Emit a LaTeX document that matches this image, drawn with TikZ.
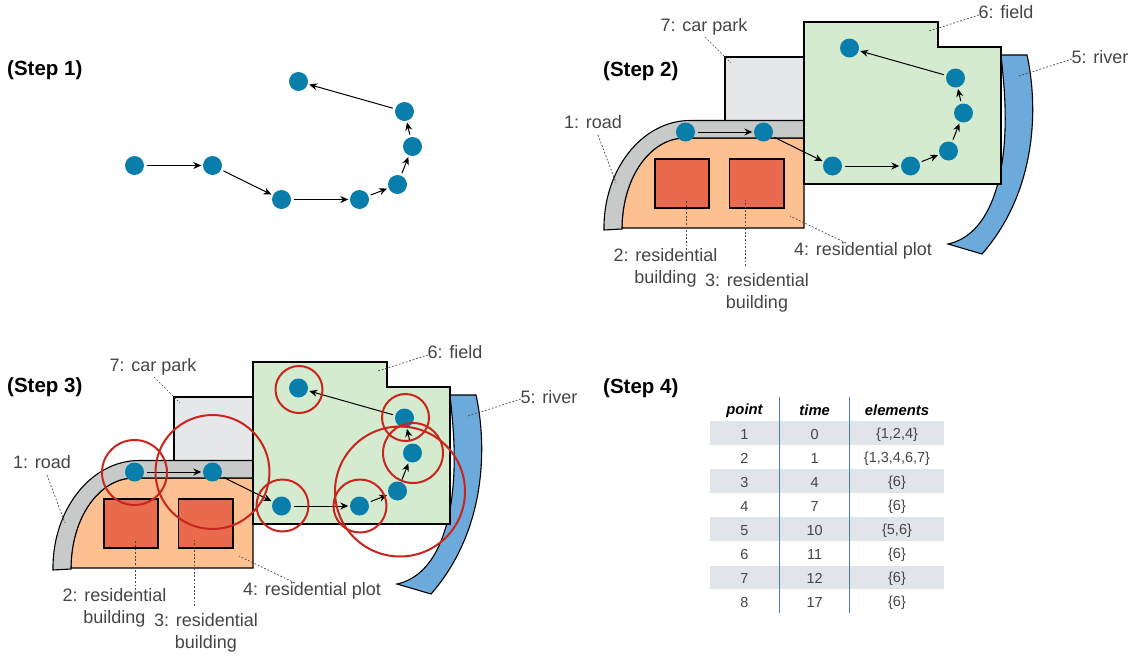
\documentclass[tikz,border=0pt]{standalone}
\usepackage{fontspec}
\setmainfont{Liberation Sans}
\usetikzlibrary{arrows.meta}
\definecolor{cfield}{HTML}{D5EBD0}
\definecolor{cpark}{HTML}{E6E7E9}
\definecolor{croad}{HTML}{C8CACA}
\definecolor{cplot}{HTML}{FDC090}
\definecolor{cbuild}{HTML}{EA6A4E}
\definecolor{criver}{HTML}{6CAADB}
\definecolor{cdot}{HTML}{0A7EAA}
\definecolor{cred}{HTML}{C9251D}
\definecolor{cband}{HTML}{E1E4E8}
\definecolor{cvline}{HTML}{4F7FA0}
\definecolor{ctext}{HTML}{454545}
\tikzset{
  region/.style={draw=black,line width=1.1pt,line join=miter},
  stop/.style={circle,fill=cdot,minimum size=19pt,inner sep=0pt},
  hop/.style={-{Stealth[length=8pt,width=7pt]},line width=1pt,black,shorten >=1.5pt,shorten <=2.5pt},
  leader/.style={draw=ctext,line width=.7pt,dash pattern=on 1.8pt off 1.8pt},
  lab/.style={text=ctext,font=\fontsize{18}{22}\selectfont,align=center,inner sep=0pt},
  steplab/.style={font=\bfseries\fontsize{20.5}{24}\selectfont,inner sep=0pt,text=black},
  ring/.style={draw=cred,line width=2pt,circle,inner sep=0pt},
  band/.style={fill=cband,draw=none},
  cell/.style={text=ctext,font=\fontsize{14.5}{16}\selectfont,inner sep=0pt},
  head/.style={text=black,font=\bfseries\itshape\fontsize{14.8}{16}\selectfont,inner sep=0pt},
  vrule/.style={draw=cvline,line width=.9pt},
}
\newcommand{\stops}[3]{%
  \begin{scope}[shift={(#2,#3)}]
    \node[stop] (#1a) at (685.5,132) {};
    \node[stop] (#1b) at (763.5,132) {};
    \node[stop] (#1c) at (832.5,166) {};
    \node[stop] (#1d) at (910.5,166) {};
    \node[stop] (#1e) at (948.5,151) {};
    \node[stop] (#1f) at (963.5,113) {};
    \node[stop] (#1g) at (955.5,78) {};
    \node[stop] (#1h) at (849.5,48) {};
    \draw[hop] (#1a) -- (#1b);
    \draw[hop] (#1b) -- (#1c);
    \draw[hop] (#1c) -- (#1d);
    \draw[hop] (#1d) -- (#1e);
    \draw[hop] (#1e) -- (#1f);
    \draw[hop] (#1f) -- (#1g);
    \draw[hop] (#1g) -- (#1h);
  \end{scope}}
\newcommand{\landuse}[3]{%
  \begin{scope}[shift={(#2,#3)}]
    \draw[region,fill=criver] (1001,55) -- (1027,55) .. controls (1038,105) and (1038,190) .. (982,254) -- (948,244) .. controls (985,236) and (1003,190) .. (1005,130) .. controls (1006,100) and (1003,75) .. (1001,55) -- cycle;
    \draw[region,fill=cpark] (725,120.5) -- (725,57) -- (804,57) -- (804,120.5) -- cycle;
    \draw[region,fill=cplot] (622,228) -- (804,228) -- (804,138) -- (685,138) .. controls (650,138) and (622,178) .. (622,228) -- cycle;
    \draw[region,fill=croad] (604,230) .. controls (603,170) and (642,120.5) .. (690,120.5) -- (804,120.5) -- (804,138) -- (685,138) .. controls (650,138) and (622,178) .. (622,229) -- cycle;
    \draw[region,fill=cbuild] (655,159) rectangle (709,208);
    \draw[region,fill=cbuild] (729.5,159) rectangle (784,208);
    \draw[region,fill=cfield] (804,22) -- (938,22) -- (938,47) -- (1001,47) -- (1001,184) -- (804,184) -- cycle;
    \node[lab] (#1road) at (593,122) {1: road};
    \node[lab] (#1bone) at (665.5,268) {2: residential\\building};
    \node[lab] (#1btwo) at (757,293) {3: residential\\building};
    \node[lab] (#1plot) at (863,251) {4: residential plot};
    \node[lab] (#1riv) at (1100,57) {5: river};
    \node[lab] (#1fld) at (1006,12) {6: field};
    \node[lab] (#1car) at (704,27) {7: car park};
    \coordinate (#1roadA) at (616,183);
    \coordinate (#1boneA) at (686,200);
    \coordinate (#1btwoA) at (745,200);
    \coordinate (#1plotA) at (790,216);
    \coordinate (#1rivA) at (1019,76);
    \coordinate (#1fldA) at (929,31);
    \coordinate (#1carA) at (731,63);
    \draw[leader] (598,135) -- (#1roadA);
    \draw[leader] (686,250) -- (#1boneA);
    \draw[leader] (745,266) -- (#1btwoA);
    \draw[leader] (846,243) -- (#1plotA);
    \draw[leader] (1072,59) -- (#1rivA);
    \draw[leader] (979,15) -- (#1fldA);
    \draw[leader] (705,37) -- (#1carA);
  \end{scope}}
\begin{document}
\begin{tikzpicture}[x=1pt,y=-1pt]
\useasboundingbox (0,0) rectangle (1136,659);
\node[steplab,anchor=west] (t1) at (7,70) {(Step 1)};
\node[steplab,anchor=west] (t2) at (603,71) {(Step 2)};
\node[steplab,anchor=west] (t3) at (7,387) {(Step 3)};
\node[steplab,anchor=west] (t4) at (603,388) {(Step 4)};
\stops{p}{-551}{33.5}
\landuse{m}{0}{0}
\stops{q}{0}{0}
\landuse{n}{-551}{340}
\stops{r}{-551}{340}
\node[ring,minimum size=65pt] (c1) at (134.5,472.5) {};
\node[ring,minimum size=114pt] (c2) at (212.5,472) {};
\node[ring,minimum size=52pt] (c3) at (282.5,505.5) {};
\node[ring,minimum size=53pt] (c4) at (360,506) {};
\node[ring,minimum size=130pt] (c5) at (400,491.5) {};
\node[ring,minimum size=60pt] (c6) at (413,453) {};
\node[ring,minimum size=47pt] (c7) at (405.5,417.5) {};
\node[ring,minimum size=47pt] (c8) at (299,389.5) {};
% table
\foreach \y in {421,469.2,517.4,565.6}{\fill[band] (710,\y) rectangle (944,\y+23.7);}
\node[head] (h1) at (744.5,410.5) {point};
\node[head] (h2) at (814.7,410.5) {time};
\node[head] (h3) at (897,410.5) {elements};
\node[cell] (a1) at (744.5,434.3) {1};
\node[cell] (b1) at (814.7,434.3) {0};
\node[cell] (e1) at (897,434.3) {\{1,2,4\}};
\node[cell] (a2) at (744.5,458.4) {2};
\node[cell] (b2) at (814.7,458.4) {1};
\node[cell] (e2) at (897,458.4) {\{1,3,4,6,7\}};
\node[cell] (a3) at (744.5,482.4) {3};
\node[cell] (b3) at (814.7,482.4) {4};
\node[cell] (e3) at (897,482.4) {\{6\}};
\node[cell] (a4) at (744.5,506.5) {4};
\node[cell] (b4) at (814.7,506.5) {7};
\node[cell] (e4) at (897,506.5) {\{6\}};
\node[cell] (a5) at (744.5,530.6) {5};
\node[cell] (b5) at (814.7,530.6) {10};
\node[cell] (e5) at (897,530.6) {\{5,6\}};
\node[cell] (a6) at (744.5,554.6) {6};
\node[cell] (b6) at (814.7,554.6) {11};
\node[cell] (e6) at (897,554.6) {\{6\}};
\node[cell] (a7) at (744.5,578.7) {7};
\node[cell] (b7) at (814.7,578.7) {12};
\node[cell] (e7) at (897,578.7) {\{6\}};
\node[cell] (a8) at (744.5,602.7) {8};
\node[cell] (b8) at (814.7,602.7) {17};
\node[cell] (e8) at (897,602.7) {\{6\}};
\draw[vrule] (779.3,397) -- (779.3,612.7);
\draw[vrule] (849,397) -- (849,612.7);
\end{tikzpicture}
\end{document}
